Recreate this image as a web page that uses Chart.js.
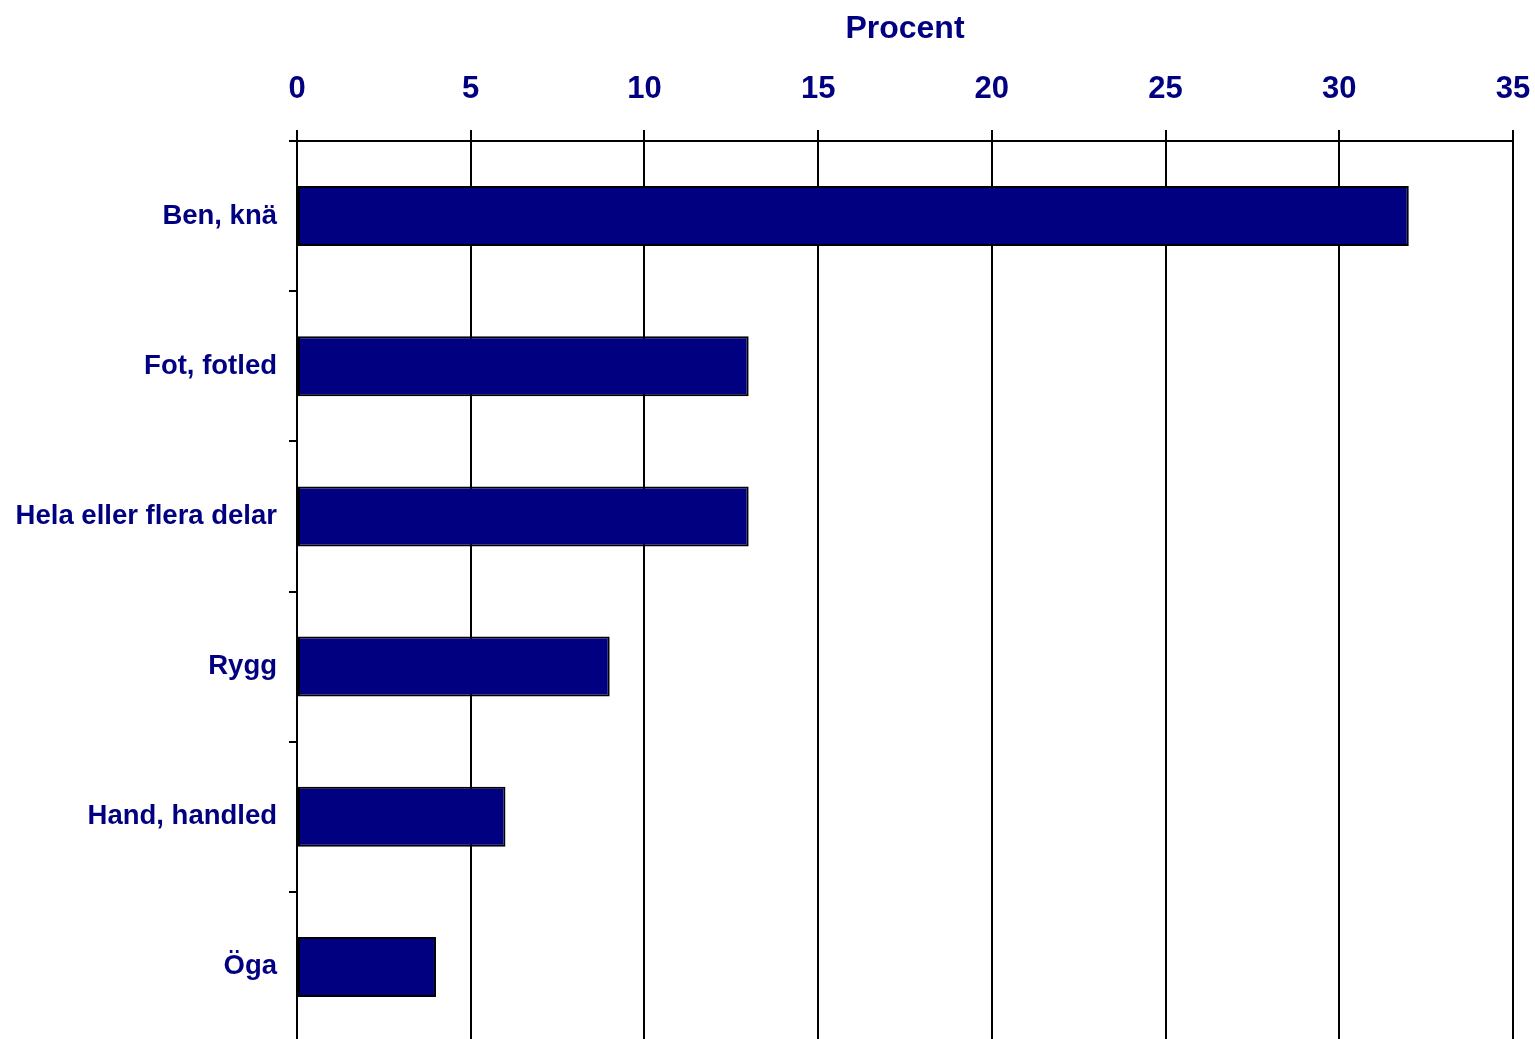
<!DOCTYPE html>
<html>
<head>
<meta charset="utf-8">
<script src="https://cdn.jsdelivr.net/npm/chart.js@4/dist/chart.umd.min.js"></script>
<style>
  html, body { margin: 0; padding: 0; background: #fff; overflow: hidden; }
  canvas { display: block; }
</style>
</head>
<body>
<canvas id="skador" width="1535" height="1045"></canvas>
<script>
var categories = ["Ben, knä", "Fot, fotled", "Hela eller flera delar", "Rygg", "Hand, handled", "Öga"];
var procent = [32, 13, 13, 9, 6, 4];
var axisTitle = "Procent";

var navy = "#000080";
var fontFamily = "'Liberation Sans', Arial, Helvetica, sans-serif";

var ctx = document.getElementById("skador");
var chart = new Chart(ctx, {
    type: "bar",
    data: {
        labels: categories,
        datasets: [{
            label: axisTitle,
            data: procent,
            backgroundColor: navy,
            borderColor: "#000000",
            borderWidth: 2,
            borderSkipped: false,
            barPercentage: 0.4,
            categoryPercentage: 1.0
        }]
    },
    options: {
        indexAxis: "y",
        responsive: false,
        animation: false,
        layout: { padding: { top: 0, right: 22, bottom: 3, left: 0 } },
        plugins: {
            legend: { display: false },
            tooltip: { enabled: false }
        },
        scales: {
            x: {
                position: "top",
                min: 0,
                max: 35,
                ticks: {
                    stepSize: 5,
                    color: navy,
                    padding: 22,
                    font: { family: fontFamily, size: 31, weight: "bold" }
                },
                grid: {
                    color: "#000000",
                    lineWidth: 2,
                    tickLength: 11
                },
                border: { color: "#000000", width: 2 },
                title: {
                    display: true,
                    text: axisTitle,
                    color: navy,
                    padding: { top: 10, bottom: 0 },
                    font: { family: fontFamily, size: 32, weight: "bold" }
                },
                afterFit: function (scale) {
                    scale.height = 141;
                    scale.paddingLeft = 0;
                    scale.paddingRight = 0;
                }
            },
            y: {
                ticks: {
                    color: navy,
                    padding: 12,
                    font: { family: fontFamily, size: 27.5, weight: "bold" }
                },
                grid: {
                    drawOnChartArea: false,
                    color: "#000000",
                    lineWidth: 2,
                    tickLength: 8
                },
                border: { color: "#000000", width: 2 },
                afterFit: function (scale) {
                    scale.width = 297;
                    scale.paddingTop = 0;
                    scale.paddingBottom = 0;
                }
            }
        }
    }
});
</script>
</body>
</html>
